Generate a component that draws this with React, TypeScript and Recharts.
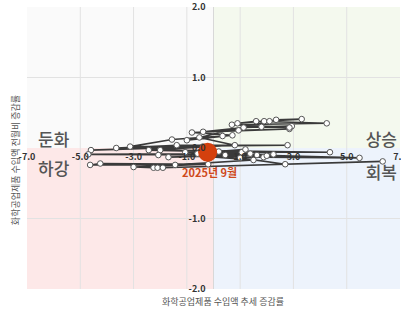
import {
  ReferenceArea,
  ReferenceDot,
  ReferenceLine,
  Scatter,
  ScatterChart,
  XAxis,
  YAxis,
} from "recharts";

// 화학공업제품 수입액: 추세 증감률 (x) vs 전월비 증감률 (y), 시간순
const trendRate = [
  -4.6, -0.4, -3.65, -1.38, 2.78, -3.13, -1.56, 0.34, -1.0, 0.71, -0.81, 2.85,
  0.94, -0.39, 1.13, 2.94, 1.8, 2.85, 0.69, 4.25, 1.6, 0.9, 1.9, 3.31, 2.35,
  2.1, -0.53, 0.8, -2.43, 1.06, -2.0, 4.37, -1.06, 1.38, -4.7, 0.44, -2.07,
  2.25, -1.69, 1.63, -0.6, 5.48, 1.88, -0.3, 1.5, -1.44, -4.63, -4.25, -0.2,
  -3.0, -2.25, -2.1, -1.9, 6.35, 2.69, 1.0, 2.0, 0.2, 1.2, -0.22,
];
const momRate = [
  -0.03, 0.02, 0.0, 0.04, 0.04, 0.02, 0.12, 0.17, 0.11, 0.18, 0.22, 0.27,
  0.25, 0.23, 0.29, 0.31, 0.3, 0.29, 0.33, 0.35, 0.38, 0.35, 0.38, 0.41, 0.4,
  0.38, 0.15, 0.04, -0.03, -0.06, -0.03, -0.06, -0.06, -0.08, -0.09, -0.1,
  -0.1, -0.09, -0.13, -0.1, -0.08, -0.14, -0.13, -0.12, -0.17, -0.24, -0.24,
  -0.22, -0.23, -0.27, -0.28, -0.28, -0.28, -0.19, -0.23, -0.14, -0.11, -0.05,
  -0.02, -0.06,
];
const lastLabel = "2025년 9월";

const xTicks = [-7, -5, -3, -1, 1, 3, 5, 7];
const yTicks = [-2, -1, 0, 1, 2];
const xGrid = [-5, -3, -1, 1, 3, 5];
const yGrid = [-1, 1];

const quadrants = [
  { name: "둔화", x1: -7, x2: 0, y1: 0, y2: 2, fill: "#fafafa", corner: "bl" },
  { name: "상승", x1: 0, x2: 7, y1: 0, y2: 2, fill: "#f4f9ee", corner: "br" },
  { name: "하강", x1: -7, x2: 0, y1: -2, y2: 0, fill: "#fde8e8", corner: "tl" },
  { name: "회복", x1: 0, x2: 7, y1: -2, y2: 0, fill: "#edf3fc", corner: "tr" },
];

const FONT = "'Noto Sans CJK KR', 'Noto Sans', sans-serif";

const points = trendRate.map((x, i) => ({ x, y: momRate[i] }));
const lastPoint = [points[points.length - 1]];

function quadLabel(text: string, corner: string) {
  return (props: any) => {
    const { x, y, width, height } = props.viewBox;
    const left = corner === "bl" || corner === "tl";
    const top = corner === "tl" || corner === "tr";
    const tx = left ? x + 11 : x + width - 3;
    // top-side quadrants put the word just above the zero line, bottom ones just below
    const ty = top ? y + (corner === "tl" ? 27 : 31) : y + height - 2;
    return (
      <text
        x={tx}
        y={ty}
        textAnchor={left ? "start" : "end"}
        fontFamily={FONT}
        fontSize={17}
        fontWeight={500}
        fill="#555"
      >
        {text}
      </text>
    );
  };
}

const dot = (props: any) => (
  <circle cx={props.cx} cy={props.cy} r={2.8} fill="#fff" stroke="#555" strokeWidth={1} />
);

const bigDot = (props: any) => (
  <g>
    <circle cx={props.cx} cy={props.cy} r={9.5} fill="#d4400e" />
    <text
      x={props.cx + 2}
      y={props.cy + 25}
      textAnchor="middle"
      fontFamily={FONT}
      fontSize={11}
      fontWeight={700}
      fill="#cf4a1c"
    >
      {lastLabel}
    </text>
  </g>
);

export default function App() {
  return (
    <div style={{ position: "absolute", left: 0, top: 0, width: 401, height: 309, overflow: "hidden", background: "#fff" }}>
      <ScatterChart width={420} height={309} margin={{ top: 7, right: 20, bottom: 20, left: 27 }}>
        <XAxis type="number" dataKey="x" domain={[-7, 7]} ticks={xTicks} hide />
        <YAxis type="number" dataKey="y" domain={[-2, 2]} ticks={yTicks} hide />
        {quadrants.map((q) => (
          <ReferenceArea
            key={q.name}
            x1={q.x1}
            x2={q.x2}
            y1={q.y1}
            y2={q.y2}
            fill={q.fill}
            fillOpacity={1}
            stroke="none"
            label={quadLabel(q.name, q.corner)}
          />
        ))}
        {xGrid.map((v) => (
          <ReferenceLine key={"gx" + v} x={v} stroke="#e2e2e2" strokeWidth={1} />
        ))}
        {yGrid.map((v) => (
          <ReferenceLine key={"gy" + v} y={v} stroke="#e2e2e2" strokeWidth={1} />
        ))}
        <ReferenceLine x={0} stroke="#d8d8d8" strokeWidth={1} />
        {xTicks.map((v) => (
          <ReferenceDot
            key={"tx" + v}
            x={v}
            y={0}
            r={0}
            fill="none"
            stroke="none"
            ifOverflow="visible"
            label={{
              value: v.toFixed(1),
              position: "bottom",
              offset: 6,
              fontSize: 9,
              fontWeight: 700,
              fill: "#333",
              fontFamily: FONT,
            }}
          />
        ))}
        {yTicks.map((v) => (
          <ReferenceDot
            key={"ty" + v}
            x={0}
            y={v}
            r={0}
            fill="none"
            stroke="none"
            ifOverflow="visible"
            label={{
              value: v.toFixed(1),
              position: "left",
              offset: 8,
              fontSize: 9,
              fontWeight: 700,
              fill: "#333",
              fontFamily: FONT,
            }}
          />
        ))}
        <Scatter
          data={points}
          line={{ stroke: "#3a3a3a", strokeWidth: 1.6 }}
          shape={dot}
          isAnimationActive={false}
        />
        <Scatter data={lastPoint} shape={bigDot} isAnimationActive={false} />
        <text x={223} y={305} textAnchor="middle" fontFamily={FONT} fontSize={9} fill="#555">
          화학공업제품 수입액 추세 증감률
        </text>
        <text
          x={15}
          y={160}
          textAnchor="middle"
          dominantBaseline="central"
          transform="rotate(-90 15 160)"
          fontFamily={FONT}
          fontSize={9}
          fill="#555"
        >
          화학공업제품 수입액 전월비 증감률
        </text>
      </ScatterChart>
    </div>
  );
}
